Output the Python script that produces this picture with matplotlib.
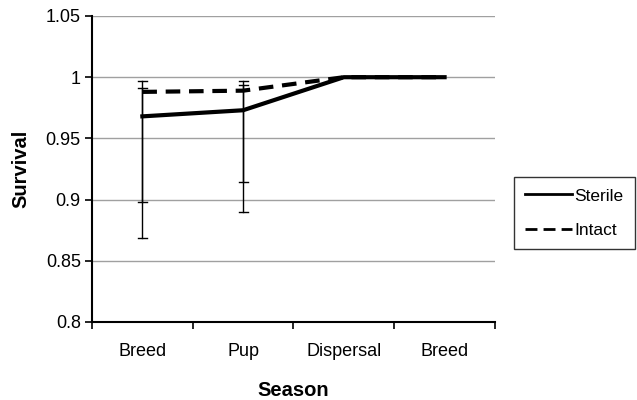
import numpy as np
import matplotlib.pyplot as plt

plt.rcParams['font.family'] = ['Liberation Sans', 'DejaVu Sans']

seasons = ['Breed', 'Pup', 'Dispersal', 'Breed']
sterile = [0.968, 0.973, 1.0, 1.0]
intact = [0.988, 0.989, 1.0, 1.0]
sterile_low = [0.869, 0.890]
sterile_high = [0.997, 0.997]
intact_low = [0.898, 0.914]
intact_high = [0.991, 0.9935]

fig = plt.figure(figsize=(6.37, 4.0), dpi=100)
ax = fig.add_axes([0.1444, 0.195, 0.6326, 0.765])

x = np.arange(len(seasons))
ax.plot(x, sterile, color='black', linewidth=3, label='Sterile', zorder=3)
ax.plot(x, intact, color='black', linewidth=3, linestyle=(0, (3.5, 2.1)), label='Intact', zorder=3)

# error bars for the first two seasons
for i in range(2):
    for lo, hi in [(sterile_low[i], sterile_high[i]), (intact_low[i], intact_high[i])]:
        ax.plot([x[i], x[i]], [lo, hi], color='black', linewidth=1, zorder=4)
        ax.plot([x[i] - 0.045, x[i] + 0.045], [lo, lo], color='black', linewidth=1, zorder=4)
        ax.plot([x[i] - 0.045, x[i] + 0.045], [hi, hi], color='black', linewidth=1, zorder=4)

ax.set_xlim(-0.5, len(seasons) - 0.5)
ax.set_ylim(0.8, 1.05)
ax.set_yticks([0.8, 0.85, 0.9, 0.95, 1.0, 1.05])
ax.set_yticklabels(['0.8', '0.85', '0.9', '0.95', '1', '1.05'], fontsize=13)
ax.set_xticks(x)
ax.set_xticklabels(seasons, fontsize=13)
ax.set_xticks(np.arange(-0.5, len(seasons)), minor=True)
ax.tick_params(axis='x', which='major', length=0, pad=15)
ax.tick_params(axis='x', which='minor', length=5, width=1.2, direction='out')
ax.tick_params(axis='y', length=5, width=1.2, direction='out', pad=3)

ax.grid(axis='y', color='#a0a0a0', linewidth=1)
ax.set_axisbelow(True)
for s in ['top', 'right']:
    ax.spines[s].set_visible(False)
for s in ['left', 'bottom']:
    ax.spines[s].set_linewidth(1.5)

ax.set_xlabel('Season', fontsize=14.5, fontweight='bold', labelpad=15)
ax.set_ylabel('Survival', fontsize=14.5, fontweight='bold', labelpad=11)

leg = ax.legend(loc='center left', bbox_to_anchor=(1.047, 0.356), fontsize=12.5,
                frameon=True, fancybox=False, edgecolor='black', handlelength=2.7,
                handletextpad=0.15, borderpad=0.65, labelspacing=1.1, borderaxespad=0)
leg.get_frame().set_linewidth(1)
for line in leg.get_lines():
    line.set_linewidth(2)
leg.get_lines()[1].set_dashes([4.3, 2.2])

plt.savefig('out.png', dpi=100)
